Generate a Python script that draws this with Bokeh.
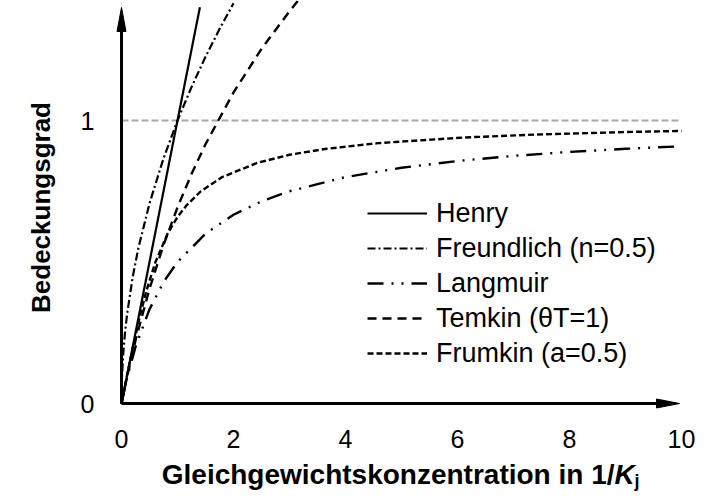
from bokeh.plotting import figure
from bokeh.models import Range1d, FixedTicker, Legend, LegendItem, Label
from bokeh.embed import file_html
from bokeh.resources import INLINE
import math

# ---- data ----
X_TICKS = [0, 2, 4, 6, 8, 10]
Y_TICKS = [0, 1]

HENRY_X = [0, 1.4]
HENRY_Y = [0, 1.4]

FREUNDLICH_X = [0, 0.002, 0.005, 0.01, 0.03, 0.06, 0.1, 0.2, 0.3, 0.5, 0.75, 1.0, 1.25, 1.5, 1.75, 2.0]
FREUNDLICH_Y = [0, 0.045, 0.071, 0.10, 0.173, 0.245, 0.316, 0.447, 0.548, 0.707, 0.866, 1.0, 1.118, 1.225, 1.323, 1.414]

LANGMUIR_X = [0, 0.1, 0.25, 0.5, 0.75, 1, 1.5, 2, 2.5, 3, 4, 5, 6, 7, 8, 9, 10]
LANGMUIR_Y = [0, 0.091, 0.2, 0.333, 0.429, 0.5, 0.6, 0.667, 0.714, 0.75, 0.8, 0.833, 0.857, 0.875, 0.889, 0.9, 0.909]

TEMKIN_X = [0, 0.1, 0.25, 0.5, 0.75, 1, 1.25, 1.5, 2, 2.5, 3, 3.2]
TEMKIN_Y = [0, 0.095, 0.223, 0.405, 0.56, 0.693, 0.811, 0.916, 1.099, 1.253, 1.386, 1.435]

FRUMKIN_X = [0, 0.1, 0.205, 0.318, 0.447, 0.607, 0.823, 1.0, 1.159, 1.417, 1.797, 2.422, 3.0, 3.659, 4.583, 6.12, 7.35, 9.19, 10]
FRUMKIN_Y = [0, 0.1, 0.2, 0.3, 0.4, 0.5, 0.6, 0.659, 0.7, 0.75, 0.8, 0.85, 0.879, 0.9, 0.92, 0.94, 0.95, 0.96, 0.963]

REF_X = [0, 10]
REF_Y = [1, 1]

LABELS = ["Henry", "Freundlich (n=0.5)", "Langmuir", "Temkin (\u03b8T=1)", "Frumkin (a=0.5)"]
X_TITLE = "Gleichgewichtskonzentration in 1/"
X_TITLE_K = "K"
X_TITLE_SUB = "j"
Y_TITLE = "Bedeckungsgrad"

FONT = "Liberation Sans"

# ---- figure: the frame fills the canvas, axes are fixed at 0 ----
W, H = 707, 497
PX_X, PX_Y = 56.0, 283.0          # pixels per data unit
OX, OY = 121.0, 403.0             # pixel position of the data origin
x_range = Range1d(-OX / PX_X, (W - OX) / PX_X)
y_range = Range1d(-(H - OY) / PX_Y, OY / PX_Y)

p = figure(width=W, height=H, output_backend="svg", toolbar_location=None,
           x_range=x_range, y_range=y_range,
           min_border_left=0, min_border_right=0, min_border_top=0, min_border_bottom=0)
p.outline_line_color = None
p.grid.visible = False
p.background_fill_color = "white"
p.border_fill_color = "white"

for ax in (p.xaxis[0], p.yaxis[0]):
    ax.fixed_location = 0
    ax.axis_line_color = None
    ax.major_tick_line_color = None
    ax.minor_tick_line_color = None
    ax.major_label_text_font = FONT
    ax.major_label_text_font_size = "25px"
    ax.major_label_text_color = "black"
p.xaxis[0].ticker = FixedTicker(ticks=X_TICKS)
p.yaxis[0].ticker = FixedTicker(ticks=Y_TICKS)
p.xaxis[0].major_label_standoff = 20
p.yaxis[0].major_label_standoff = 21

# reference line at full coverage
p.line(REF_X, REF_Y, line_color="#a6a6a6", line_width=2, line_dash="7 3")

# axes with arrowheads
AX_END = (679 - OX) / PX_X
AY_END = (OY - 7) / PX_Y
head_len_x, head_half_x = 23 / PX_X, 4.5 / PX_Y
head_len_y, head_half_y = 24 / PX_Y, 4.5 / PX_X
p.line([0, AX_END - head_len_x * 0.5], [0, 0], line_color="black", line_width=3)
p.line([0, 0], [0, AY_END - head_len_y * 0.5], line_color="black", line_width=3)
p.patch([AX_END, AX_END - head_len_x, AX_END - head_len_x],
        [0, head_half_x, -head_half_x], fill_color="black", line_color="black", line_width=1)
p.patch([0, head_half_y, -head_half_y],
        [AY_END, AY_END - head_len_y, AY_END - head_len_y], fill_color="black", line_color="black", line_width=1)

# curves
r_h = p.line(HENRY_X, HENRY_Y, line_color="black", line_width=2.2)
r_f = p.line(FREUNDLICH_X, FREUNDLICH_Y, line_color="black", line_width=2.2, line_dash="8 3 2 3")
r_l = p.line(LANGMUIR_X, LANGMUIR_Y, line_color="black", line_width=2.4, line_dash="16 8 2 8 2 8")
r_t = p.line(TEMKIN_X, TEMKIN_Y, line_color="black", line_width=2.4, line_dash="9 6")
r_fr = p.line(FRUMKIN_X, FRUMKIN_Y, line_color="black", line_width=2.4, line_dash="6 3")

legend = Legend(items=[LegendItem(label=l, renderers=[r]) for l, r in
                       zip(LABELS, [r_h, r_f, r_l, r_t, r_fr])],
                location=(367, 128), glyph_width=60, glyph_height=32, label_height=32,
                spacing=3, label_standoff=9, padding=0, margin=0,
                border_line_alpha=0, background_fill_alpha=0,
                label_text_font=FONT, label_text_font_size="27px", label_text_color="black")
p.add_layout(legend, "center")

# x title (with italic K and subscript j), screen units from the bottom-left
J = 614
BASE = H - 474
p.add_layout(Label(x=J, y=BASE, x_units="screen", y_units="screen",
                   text=X_TITLE, text_font=FONT, text_align="right", text_color="black",
                   text_font_size="28px", text_font_style="bold", text_baseline="alphabetic"))
p.add_layout(Label(x=J, y=BASE, x_units="screen", y_units="screen",
                   text=X_TITLE_K, text_font=FONT, text_align="left", text_color="black",
                   text_font_size="28px", text_font_style="bold italic", text_baseline="alphabetic"))
p.add_layout(Label(x=J + 20, y=BASE - 6, x_units="screen", y_units="screen",
                   text=X_TITLE_SUB, text_font=FONT, text_align="left", text_color="black",
                   text_font_size="18px", text_font_style="bold", text_baseline="alphabetic"))

# y title
p.add_layout(Label(x=40, y=H - 207, x_units="screen", y_units="screen",
                   text=Y_TITLE, text_font=FONT, angle=math.pi / 2, text_color="black",
                   text_font_size="26px", text_font_style="bold",
                   text_align="center", text_baseline="middle"))

open("out.html", "w").write(file_html(p, INLINE))
